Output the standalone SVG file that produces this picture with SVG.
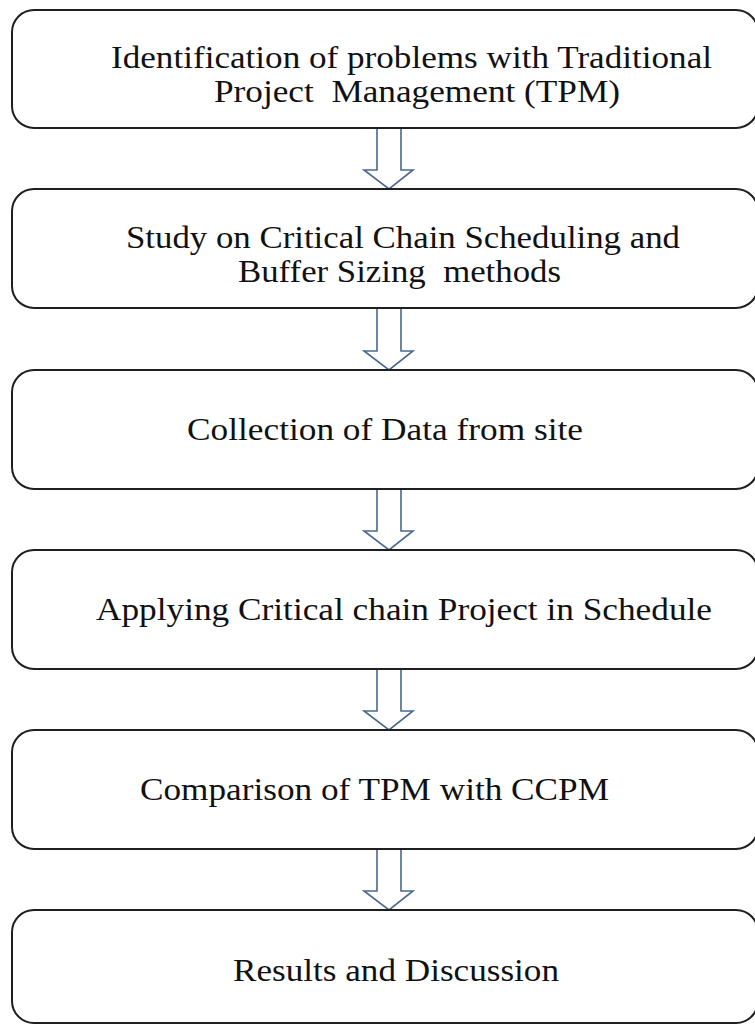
<svg xmlns="http://www.w3.org/2000/svg" width="755" height="1025" viewBox="0 0 755 1025">
  <style>
    .box { fill: #ffffff; stroke: #1f1f1f; stroke-width: 2; }
    .label { font-family: "Liberation Serif", "Times New Roman", serif; font-size: 31px; fill: #111111; }
    .arrow { fill: #ffffff; stroke: #4a6890; stroke-width: 1.6; stroke-linejoin: miter; }
  </style>
  <rect x="0" y="0" width="755" height="1025" fill="#ffffff"/>

  <!-- hollow block arrows between consecutive steps -->
  <g id="connectors">
    <path class="arrow" d="M377,128 V170 H364 L389,189 L413,170 H401 V128"/>
    <path class="arrow" d="M377,308 V351 H364 L389,370 L413,351 H401 V308"/>
    <path class="arrow" d="M377,489 V531 H364 L389,550 L413,531 H401 V489"/>
    <path class="arrow" d="M377,669 V711 H364 L389,730 L413,711 H401 V669"/>
    <path class="arrow" d="M377,849 V891 H364 L389,910 L413,891 H401 V849"/>
  </g>

  <g id="step1">
    <rect class="box" x="12" y="10" width="746" height="118" rx="22"/>
    <text class="label" x="111" y="68" textLength="601" lengthAdjust="spacingAndGlyphs">Identification of problems with Traditional</text>
    <text class="label" x="214" y="102" textLength="406" lengthAdjust="spacingAndGlyphs" xml:space="preserve">Project  Management (TPM)</text>
  </g>

  <g id="step2">
    <rect class="box" x="12" y="189" width="746" height="119" rx="22"/>
    <text class="label" x="126" y="248" textLength="554" lengthAdjust="spacingAndGlyphs">Study on Critical Chain Scheduling and</text>
    <text class="label" x="238" y="282" textLength="323" lengthAdjust="spacingAndGlyphs" xml:space="preserve">Buffer Sizing  methods</text>
  </g>

  <g id="step3">
    <rect class="box" x="12" y="370" width="746" height="119" rx="22"/>
    <text class="label" x="187" y="440" textLength="396" lengthAdjust="spacingAndGlyphs">Collection of Data from site</text>
  </g>

  <g id="step4">
    <rect class="box" x="12" y="550" width="746" height="119" rx="22"/>
    <text class="label" x="96" y="620" textLength="616" lengthAdjust="spacingAndGlyphs">Applying Critical chain Project in Schedule</text>
  </g>

  <g id="step5">
    <rect class="box" x="12" y="730" width="746" height="119" rx="22"/>
    <text class="label" x="140" y="800" textLength="469" lengthAdjust="spacingAndGlyphs">Comparison of TPM with CCPM</text>
  </g>

  <g id="step6">
    <rect class="box" x="12" y="910" width="746" height="113" rx="22"/>
    <text class="label" x="233" y="981" textLength="326" lengthAdjust="spacingAndGlyphs">Results and Discussion</text>
  </g>
</svg>
